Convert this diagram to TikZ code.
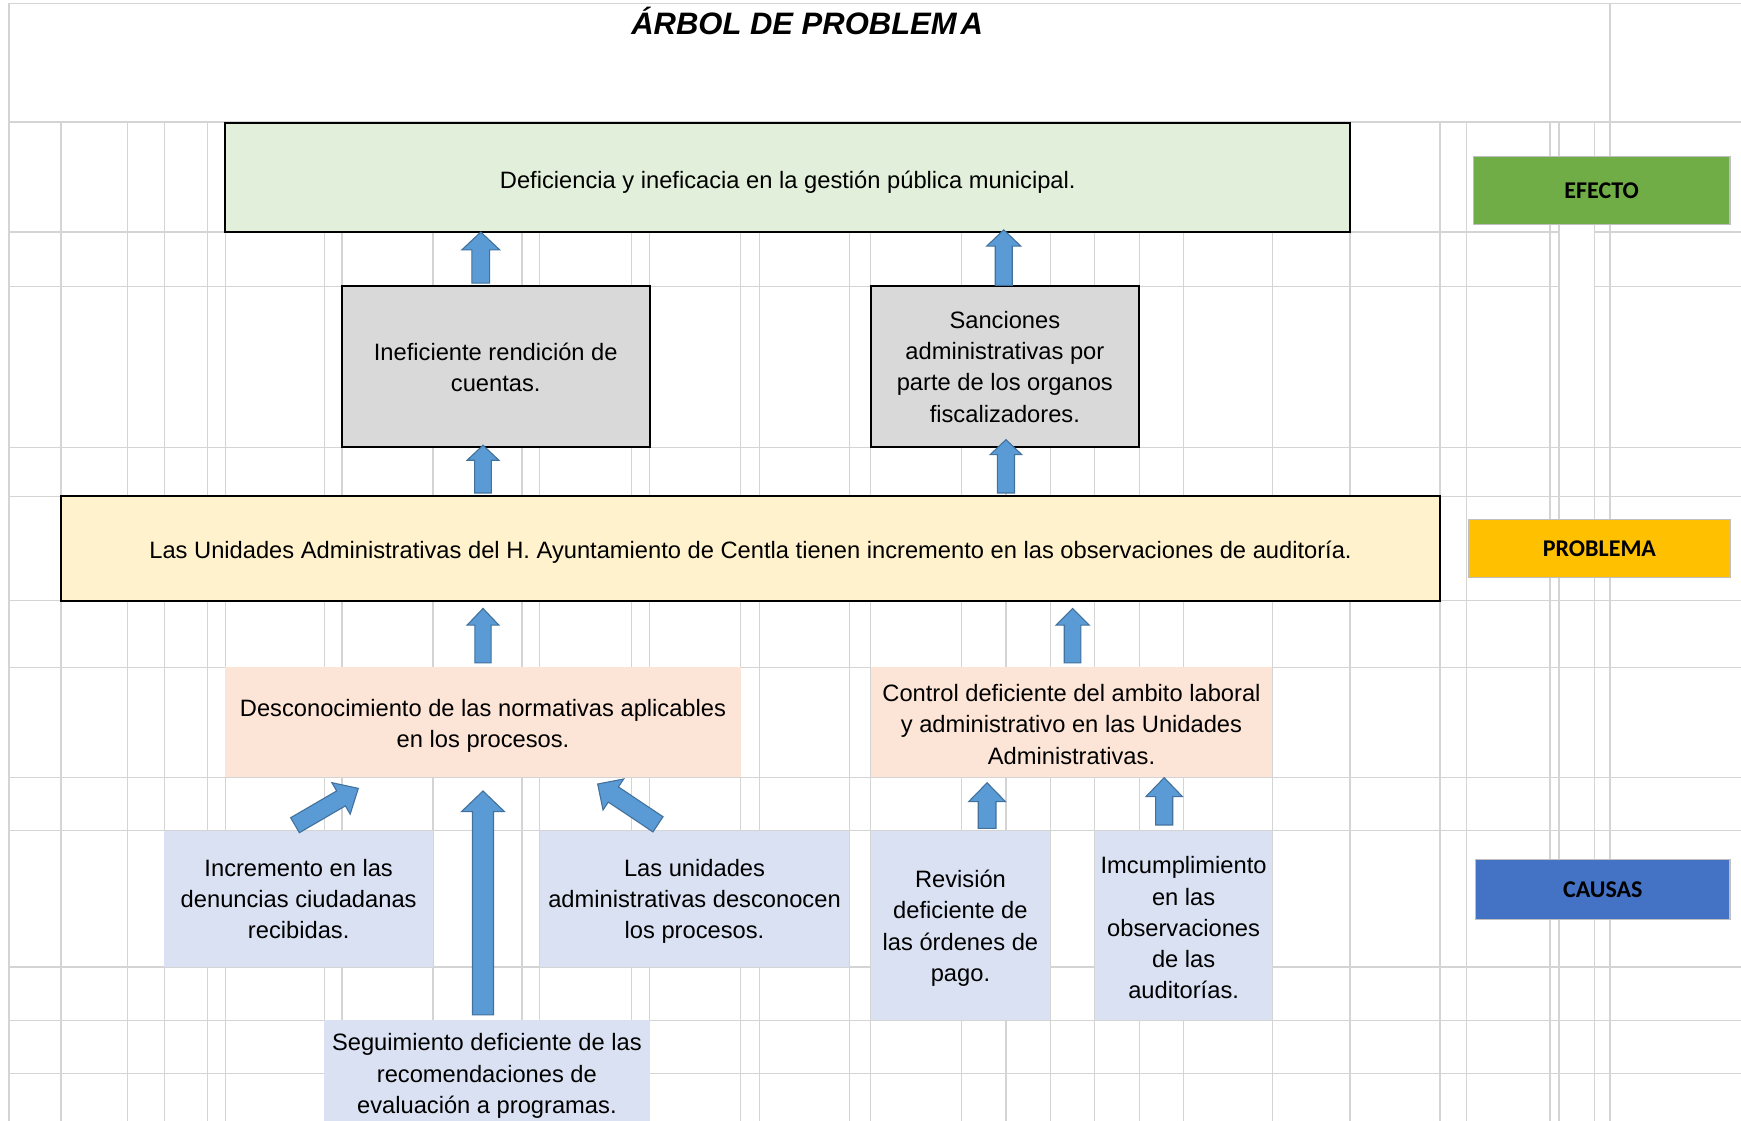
\documentclass[tikz,border=0pt]{standalone}
\usepackage{fontspec}
\setmainfont{Liberation Sans}
\newfontfamily\labelfont{Carlito}
\usetikzlibrary{calc}
\definecolor{gridc}{HTML}{D4D4D4}
\definecolor{effc}{HTML}{E2EFDA}
\definecolor{grayc}{HTML}{D9D9D9}
\definecolor{probc}{HTML}{FFF2CC}
\definecolor{peachc}{HTML}{FCE4D6}
\definecolor{causec}{HTML}{D9E1F2}
\definecolor{lblgreen}{HTML}{70AD47}
\definecolor{lblyellow}{HTML}{FFC000}
\definecolor{lblblue}{HTML}{4472C4}
\definecolor{lblborder}{HTML}{BFBFBF}
\definecolor{arrfill}{HTML}{5B9BD5}
\definecolor{arrdraw}{HTML}{41719C}
\newcommand{\blockarrow}[5]{%
  \pgfmathsetlengthmacro\baw{#3*1.1103pt}%
  \pgfmathsetlengthmacro\bah{#4*1.1103pt}%
  \pgfmathsetlengthmacro\bal{#5*1.1103pt}%
  \coordinate (hb) at ($(#2)!\bal!(#1)$);
  \draw[barrow] ($(#1)!\baw!90:(#2)$) -- ($(hb)!\baw!90:(#2)$) -- ($(hb)!\bah!90:(#2)$) -- (#2)
     -- ($(hb)!\bah!-90:(#2)$) -- ($(hb)!\baw!-90:(#2)$) -- ($(#1)!\baw!-90:(#2)$) -- cycle;
}
% text of a box, set at the box centre lowered by #2 units
\newcommand{\boxtext}[3]{\node[txt] (#1-t) at ($(#1.center)+(0,#2)$) {#3};}
\tikzset{
  gridline/.style={draw=gridc, line width=1.4pt},
  cellbox/.style n args={4}{rectangle, minimum width={(#3-#1)*1.1103pt}, minimum height={(#4-#2)*1.1103pt}, at={({(#1+#3)/2},{(#2+#4)/2})}},
  txt/.style={inner sep=0pt, outer sep=0pt, align=center, font=\fontsize{23.7}{31.1}\selectfont},
  plainbox/.style={inner sep=0pt, outer sep=0pt},
  bordered/.style={plainbox, draw=black, line width=2pt},
  effbox/.style={bordered, fill=effc},
  graybox/.style={bordered, fill=grayc},
  probbox/.style={bordered, fill=probc},
  peachbox/.style={plainbox, fill=peachc},
  causebox/.style={plainbox, fill=causec},
  lblbox/.style={inner sep=0pt, outer sep=0pt, draw=lblborder, line width=1.5pt, font=\labelfont\bfseries\fontsize{24}{26}\selectfont},
  barrow/.style={fill=arrfill, draw=arrdraw, line width=1.1pt, line join=miter},
}
\begin{document}
\begin{tikzpicture}[x=1.1103pt, y=-1.1103pt]
\useasboundingbox (0,0) rectangle (1568,1009.6);
\fill[white] (0,0) rectangle (1568,1009.6);
\clip (0,0) rectangle (1568,1009.6);
% grid
\foreach \x in {55,115,148,187,203,292,308,390,470,486,569,585,667,684,765,784,866,906,946,986,1026,1066,1146,1216,1297,1321,1396,1404,1436}
  \draw[gridline] (\x,110) -- (\x,1012);
\draw[gridline] (8,3) -- (8,1012);
\draw[gridline] (1450,3) -- (1450,1012);
\foreach \y in {3,110,403,447,541,601,700,748,871,919,967}
  \draw[gridline] (8,\y) -- (1570,\y);
\foreach \y in {209,258} {
  \draw[gridline] (8,\y) -- (1404,\y);
  \draw[gridline] (1436,\y) -- (1570,\y);
}
% title
\node[inner sep=0pt, font=\fontsize{31}{32}\selectfont\bfseries\itshape] (title) at (727,19) {ÁRBOL DE PROBLEM\kern4pt A};
% boxes
\node[effbox, cellbox={203}{111}{1216}{209}] (eff) {};
\node[graybox, cellbox={308}{258}{585}{403}] (g1) {};
\node[graybox, cellbox={784}{258}{1026}{403}] (g2) {};
\node[probbox, cellbox={55}{447}{1297}{541}] (prob) {};
\node[peachbox, cellbox={203}{601}{667}{700}] (c1) {};
\node[peachbox, cellbox={784}{601}{1146}{700}] (c2) {};
\node[causebox, cellbox={148}{748}{390}{871}] (r1) {};
\node[causebox, cellbox={486}{748}{765}{871}] (r2) {};
\node[causebox, cellbox={292}{919}{585}{1013}] (r3) {};
\node[causebox, cellbox={784}{748}{946}{919}] (r4) {};
\node[causebox, cellbox={986}{748}{1146}{919}] (r5) {};
% texts
\boxtext{eff}{4}{Deficiencia y ineficacia en la gestión pública municipal.}
\boxtext{g1}{0}{Ineficiente rendición de\\cuentas.}
\boxtext{g2}{0}{Sanciones\\administrativas por\\parte de los organos\\fiscalizadores.}
\boxtext{prob}{3}{Las Unidades Administrativas del H. Ayuntamiento de Centla tienen incremento en las observaciones de auditoría.}
\boxtext{c1}{3}{Desconocimiento de las normativas aplicables\\en los procesos.}
\boxtext{c2}{2}{Control deficiente del ambito laboral\\y administrativo en las Unidades\\Administrativas.}
\boxtext{r1}{0}{Incremento en las\\denuncias ciudadanas\\recibidas.}
\boxtext{r2}{2.5}{Las unidades\\administrativas desconocen\\los procesos.}
\boxtext{r3}{3}{Seguimiento deficiente de las\\recomendaciones de\\evaluación a programas.}
\boxtext{r4}{2.5}{Revisión\\deficiente de\\las órdenes de\\pago.}
\boxtext{r5}{2}{Imcumplimiento\\en las\\observaciones\\de las\\auditorías.}
% side labels
\node[lblbox, fill=lblgreen, cellbox={1327}{141}{1558}{202}] (lefecto) {EFECTO};
\node[lblbox, fill=lblyellow, cellbox={1323}{468}{1558}{520}] (lproblema) {PROBLEMA};
\node[lblbox, fill=lblblue, cellbox={1329}{774}{1558}{828}] (lcausas) {CAUSAS};
% arrow end points
\coordinate (a1s) at (433,255);   \coordinate (a1e) at (433,209);
\coordinate (a2s) at (435,444);   \coordinate (a2e) at (435,401);
\coordinate (a3s) at (904,257);   \coordinate (a3e) at (904,207);
\coordinate (a4s) at (906,444);   \coordinate (a4e) at (906,396);
\coordinate (a5s) at (435,597);   \coordinate (a5e) at (435,548);
\coordinate (a6s) at (966,597);   \coordinate (a6e) at (966,548);
\coordinate (a7s) at (889,746);   \coordinate (a7e) at (889,705);
\coordinate (a8s) at (1048.5,743);\coordinate (a8e) at (1048.5,700.4);
\coordinate (a9s) at (435,914);   \coordinate (a9e) at (435,712.4);
\coordinate (a10s) at (265.7,743.2); \coordinate (a10e) at (322.7,710);
\coordinate (a11s) at (592.6,742.4); \coordinate (a11e) at (538.3,706.1);
\blockarrow{a1s}{a1e}{8}{17}{16}
\blockarrow{a2s}{a2e}{7.5}{14.3}{13.5}
\blockarrow{a3s}{a3e}{7.7}{15.3}{14.6}
\blockarrow{a4s}{a4e}{7.7}{14.3}{13.5}
\blockarrow{a5s}{a5e}{7.3}{14.3}{15}
\blockarrow{a6s}{a6e}{7.5}{15}{15}
\blockarrow{a7s}{a7e}{8}{16.6}{17}
\blockarrow{a8s}{a8e}{7.7}{16.4}{17}
\blockarrow{a9s}{a9e}{9.5}{19.4}{18.6}
\blockarrow{a10s}{a10e}{7.8}{16.4}{18}
\blockarrow{a11s}{a11e}{8.2}{16.8}{17}
\end{tikzpicture}
\end{document}
